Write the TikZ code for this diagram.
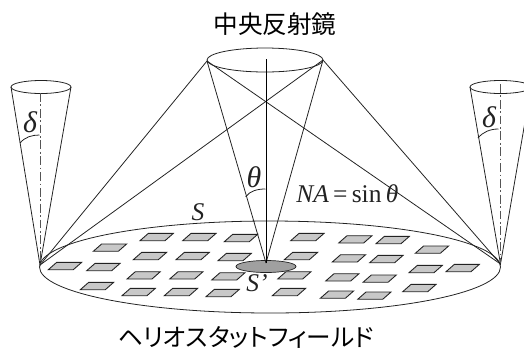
\documentclass[tikz,border=0pt]{standalone}
\usepackage{fontspec}
\setmainfont{Liberation Serif}
\newfontfamily\jpfont[RawFeature=+palt]{Noto Sans CJK JP}
\definecolor{MirrorLine}{HTML}{222222}
\definecolor{MirrorAxis}{HTML}{555555}
\definecolor{FieldPanel}{HTML}{C8C8C8}
\definecolor{FieldSpot}{HTML}{A0A0A0}
\tikzset{
  rayline/.style={MirrorLine,line width=0.45pt},
  panel/.style={draw=MirrorLine,fill=FieldPanel,line width=0.5pt},
  jplabel/.style={font=\jpfont\fontsize{14}{14}\selectfont,inner sep=0pt,text=black},
  symlabel/.style={font=\fontsize{14.5}{14.5}\selectfont\itshape,inner sep=0pt,text=MirrorLine},
  greeklabel/.style={font=\fontsize{17}{17}\selectfont\itshape,inner sep=0pt,text=MirrorLine},
}

\begin{document}
\begin{tikzpicture}[x=0.2mm,y=-0.2mm]
      \clip (0,0) rectangle (524,352);
      \coordinate (fieldL) at (40,265);
      \coordinate (fieldR) at (500.5,264);
      \coordinate (spotTip) at (266,263);
      \coordinate (mirrorL) at (207,61);
      \coordinate (mirrorR) at (323,60);
      \coordinate (axisTop) at (266,59);
      \coordinate (coneLa) at (11,87);
      \coordinate (coneLb) at (71,87);
      \coordinate (coneRa) at (470,87);
      \coordinate (coneRb) at (531,87);
      % field and mirror outlines
      \draw[rayline] (270,267) ellipse[x radius=230.5,y radius=46];
      \draw[rayline] (265,60) ellipse[x radius=58,y radius=12];
      \draw[rayline] (41,87) ellipse[x radius=30,y radius=6.5];
      \draw[rayline] (500.5,87) ellipse[x radius=30.5,y radius=6.5];
      % heliostats
      \foreach \x/\y in {140/240.7,182.7/240.7,224.3/241.7,93.3/251.3,133.3/259.7,176/259.7,
        218/260.7,48.3/269.7,86.7/270.7,127/279,169.7/279,211.7/280,80.3/289.7,122/295.7,
        164.3/295.7,206/296.7,290.7/240.7,338.7/243,376/243.7,415.3/253.3,284.3/259.7,
        332.3/262,369.7/262.7,409/272.7,446/271.7,277.7/279,325.7/281,363/282.3,402.7/291.7,
        272.3/295.7,320.3/298.3,357.7/299.3} {
        \draw[panel] (\x,\y) -- ++(8.3,-7.3) -- ++(25,0) -- ++(-8.3,7.3) -- cycle;
      }
      \draw[MirrorLine,fill=FieldSpot,line width=0.4pt] (266,266.5) ellipse[x radius=30,y radius=6];
      % receiving cones
      \draw[rayline] (coneLa) -- (fieldL) -- (coneLb);
      \draw[rayline] (coneRa) -- (fieldR) -- (coneRb);
      \draw[MirrorAxis,line width=0.45pt,dash pattern=on 5pt off 1.5pt on 1pt off 1.5pt] (40,93) -- (fieldL);
      \draw[MirrorAxis,line width=0.45pt,dash pattern=on 5pt off 1.5pt on 1pt off 1.5pt] (500.5,84) -- (fieldR);
      % rays
      \foreach \a in {mirrorL,mirrorR} {
        \draw[rayline] (\a) -- (fieldL);
        \draw[rayline] (\a) -- (fieldR);
        \draw[rayline] (\a) -- (spotTip);
      }
      \draw[black,line width=0.5pt] (axisTop) -- (spotTip);
      % angle marks
      \draw[rayline] (20,143) .. controls (25,137) and (32,135) .. (39.5,135);
      \draw[rayline] (478,138) .. controls (483,132) and (490,129) .. (498.5,129);
      \draw[rayline] (245.7,196.7) .. controls (250,191) and (257,189) .. (265.5,189);
      % labels
      \node[jplabel] (mirrorTitle) at (275,24.5) {中央反射鏡};
      \node[jplabel] (fieldTitle) at (246,337) {ヘリオスタットフィールド};
      \node[greeklabel] (deltaL) at (30,122) {δ};
      \node[greeklabel] (deltaR) at (489,117) {δ};
      \node[greeklabel] (thetaA) at (254,177) {θ};
      \node[symlabel,anchor=base west] (naLabel) at (296,202) {NA\,\upshape{=}\,sin\,\itshape θ};
      \node[symlabel] (areaS) at (198,212) {S};
      \node[symlabel] (areaSp) at (257,283) {S’};
    \end{tikzpicture}
\end{document}
